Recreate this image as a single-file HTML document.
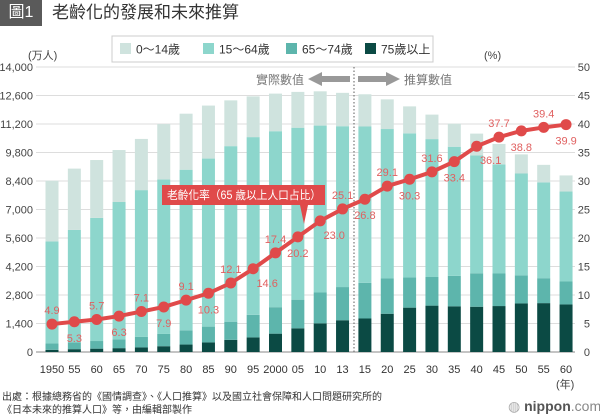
<!DOCTYPE html>
<html><head><meta charset="utf-8"><style>
body{margin:0;width:600px;height:420px;background:#fff;font-family:"Liberation Sans","Noto Sans CJK TC",sans-serif;overflow:hidden;position:relative}
.t{position:absolute;white-space:nowrap}
</style></head><body>
<div class="t" style="left:0;top:0;width:42px;height:26px;background:#5a5a5a;color:#fff;font-size:16px;line-height:26px;text-align:center">圖1</div>
<div class="t" style="left:52px;top:1px;font-size:17px;color:#333;line-height:24px">老齡化的發展和未來推算</div>
<svg id="c" width="600" height="420" style="position:absolute;left:0;top:0"></svg>
<div class="t" style="left:2px;top:391px;font-size:10px;color:#333;line-height:13px">出處：根據總務省的《國情調查》、《人口推算》以及國立社會保障和人口問題研究所的<br>《日本未來的推算人口》等，由編輯部製作</div>
<div class="t" style="left:508px;top:398px;font-size:14px;color:#555"><span style="color:#aaa">◍</span> <b>nippon</b><span style="color:#888">.com</span></div>
<script>
const years=["1950","55","60","65","70","75","80","85","90","95","2000","05","10","13","15","20","25","30","35","40","45","50","55","60"];
const age0_14=[2979,3012,2843,2553,2515,2722,2751,2603,2249,2001,1847,1759,1684,1639,1583,1457,1324,1204,1129,1073,1012,939,861,791];
const age15_64=[5016,5521,6048,6744,7212,7585,7890,8255,8623,8730,8644,8447,8198,7901,7682,7341,7084,6773,6343,5787,5352,5001,4706,4419];
const age65_74=[309,336,375,435,516,603,699,776,892,1109,1301,1407,1517,1630,1749,1733,1479,1407,1495,1645,1600,1383,1225,1128];
const age75=[107,139,164,189,224,284,366,471,597,717,901,1164,1407,1560,1646,1879,2179,2278,2245,2223,2257,2385,2401,2336];
const rate=[4.9,5.3,5.7,6.3,7.1,7.9,9.1,10.3,12.1,14.6,17.4,20.2,23.0,25.1,26.8,29.1,30.3,31.6,33.4,36.1,37.7,38.8,39.4,39.9];
const labelPos=["a","b","a","b","a","b","a","b","a","r","a","b","r","a","b","a","b","a","b","r","a","b","a","b"];
const leftTicks=[0,1400,2800,4200,5600,7000,8400,9800,11200,12600,14000];
const rightTicks=[0,5,10,15,20,25,30,35,40,45,50];
const svg=document.getElementById('c');const NS="http://www.w3.org/2000/svg";
const y0=352,yTop=67;
const yL=v=>y0-v/14000*(y0-yTop);
const yR=v=>y0-v/50*(y0-yTop);
const xC=i=>52+i*22.35;
function mk(t,a,p){const e=document.createElementNS(NS,t);for(const k in a)e.setAttribute(k,a[k]);(p||svg).appendChild(e);return e;}
leftTicks.forEach((v,i)=>{
 const g=mk('line',{x1:36,x2:575,y1:yL(v),y2:yL(v),stroke:i==0?'#888':'#ddd','stroke-width':1});
 
 const t=mk('text',{x:33,y:yL(v)+4,'text-anchor':'end','font-size':11,fill:'#444'});t.textContent=v.toLocaleString('en-US');
 
});
rightTicks.forEach(v=>{const t=mk('text',{x:590,y:yR(v)+4,'text-anchor':'end','font-size':11,fill:'#444'});t.textContent=v;
 });
const series=[[age75,'#0b4a44'],[age65_74,'#5db5ac'],[age15_64,'#8dd6cc'],[age0_14,'#cfe3de']];
years.forEach((yr,i)=>{
 let base=0;
 series.forEach(([arr,col])=>{const r=mk('rect',{x:xC(i)-6.5,width:13,y:yL(base+arr[i]),height:yL(base)-yL(base+arr[i]),fill:col});
  base+=arr[i];});
 const t=mk('text',{x:xC(i),y:373,'text-anchor':'middle','font-size':11,fill:'#333'});t.textContent=yr;
 
});
const dl=mk('line',{x1:354,x2:354,y1:67,y2:352,stroke:'#777','stroke-dasharray':'1.5 2','stroke-width':1.2});

const pl=mk('polyline',{points:rate.map((v,i)=>xC(i)+','+yR(v)).join(' '),fill:'none',stroke:'#e04a4a','stroke-width':4});

rate.forEach((v,i)=>{const c=mk('circle',{cx:xC(i),cy:yR(v),r:5.5,fill:'#e04a4a'});
 
 const p=labelPos[i];let x=xC(i),y=yR(v);
 if(p=='a')y-=10;else if(p=='b')y+=20;else{x+=14;y+=18;}
 const t=mk('text',{x:x,y:y,'text-anchor':'middle','font-size':11,fill:'#e06060'});t.textContent=v.toFixed(1);
 });
const ann=mk('path',{d:'M162 185 H325 V205 H308 L304 224 L300 205 H162 Z',fill:'#e04a4a'});

const at=mk('text',{x:167,y:199,'font-size':11.5,fill:'#fff',textLength:154,lengthAdjust:'spacingAndGlyphs'});at.textContent='老齡化率（65 歲以上人口占比）';

const la=mk('path',{d:'M308 79 L322 72 V76 H350 V82 H322 V86 Z',fill:'#999'});
const ra=mk('path',{d:'M400 79 L386 72 V76 H358 V82 H386 V86 Z',fill:'#999'});
const t1=mk('text',{x:304,y:84,'text-anchor':'end','font-size':12,fill:'#777'});t1.textContent='實際數值';
const t2=mk('text',{x:404,y:84,'font-size':12,fill:'#777'});t2.textContent='推算數值';
const u1=mk('text',{x:28,y:59,'font-size':11,fill:'#444'});u1.textContent='(万人)';
const u2=mk('text',{x:484,y:59,'font-size':11,fill:'#444'});u2.textContent='(%)';
const u3=mk('text',{x:556,y:388,'font-size':11,fill:'#444'});u3.textContent='(年)';
const lb=mk('rect',{x:112,y:36,width:321,height:26,fill:'#fff',stroke:'#ccc'});
const legNames=["0〜14歲","15〜64歲","65〜74歲","75歲以上"];
const legCols=['#cfe3de','#8dd6cc','#5db5ac','#0b4a44'];const legX=[120,203,286,365];
legNames.forEach((n,i)=>{const r=mk('rect',{x:legX[i],y:43,width:11,height:11,fill:legCols[i]});
 
 const t=mk('text',{x:legX[i]+16,y:53.5,'font-size':12,fill:'#333'});t.textContent=n;
 });
</script>
</body></html>
